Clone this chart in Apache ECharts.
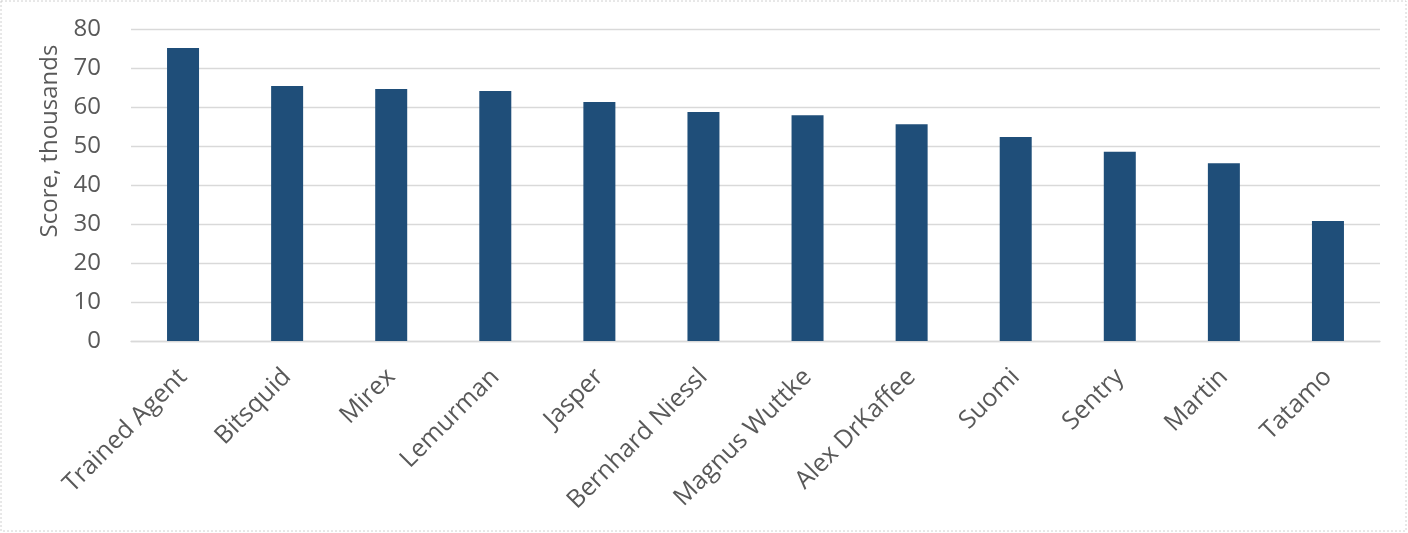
<!DOCTYPE html>
<html>
<head>
<meta charset="utf-8">
<script src="https://cdn.jsdelivr.net/npm/echarts@6/dist/echarts.min.js"></script>
<style>
  html, body { margin: 0; padding: 0; background: #ffffff; }
  #chart { width: 1408px; height: 533px; }
</style>
</head>
<body>
<div id="chart"></div>
<script>
var players = ['Trained Agent', 'Bitsquid', 'Mirex', 'Lemurman', 'Jasper', 'Bernhard Niessl',
  'Magnus Wuttke', 'Alex DrKaffee', 'Suomi', 'Sentry', 'Martin', 'Tatamo'];
var scores = [75.1, 65.4, 64.6, 64.1, 61.3, 58.7, 57.9, 55.6, 52.3, 48.5, 45.6, 30.8];
var yTicks = [0, 10, 20, 30, 40, 50, 60, 70, 80];

var chart = echarts.init(document.getElementById('chart'), null, { renderer: 'canvas' });

var textColor = '#595959';
var font = '"Open Sans", "DejaVu Sans", sans-serif';

chart.setOption({
  backgroundColor: '#ffffff',
  animation: false,
  grid: { left: 131, right: 28, top: 29, bottom: 192, containLabel: false },
  xAxis: {
    type: 'category',
    data: players,
    axisTick: { show: false },
    axisLine: { show: true, lineStyle: { color: '#d9d9d9', width: 1.3 } },
    axisLabel: {
      rotate: 45,
      interval: 0,
      margin: 32,
      color: textColor,
      fontSize: 25,
      fontFamily: font
    }
  },
  yAxis: {
    type: 'value',
    min: yTicks[0],
    max: yTicks[yTicks.length - 1],
    interval: 10,
    axisLine: { show: false },
    axisTick: { show: false },
    splitLine: { lineStyle: { color: '#d9d9d9', width: 1.3 } },
    axisLabel: {
      margin: 30,
      color: textColor,
      fontSize: 24,
      fontFamily: font
    }
  },
  graphic: [
    {
      type: 'text',
      x: 50,
      y: 141,
      rotation: Math.PI / 2,
      style: {
        text: 'Score, thousands',
        fill: textColor,
        font: '24px ' + font,
        textAlign: 'center',
        textVerticalAlign: 'middle'
      }
    },
    {
      type: 'rect',
      shape: { x: 1, y: 1, width: 1405, height: 530 },
      style: { fill: 'none', stroke: '#d0d0d0', lineWidth: 1, lineDash: [2, 2] },
      silent: true
    }
  ],
  series: [{
    type: 'bar',
    data: scores,
    barWidth: 32,
    itemStyle: { color: '#1f4e79' }
  }]
});
</script>
</body>
</html>
